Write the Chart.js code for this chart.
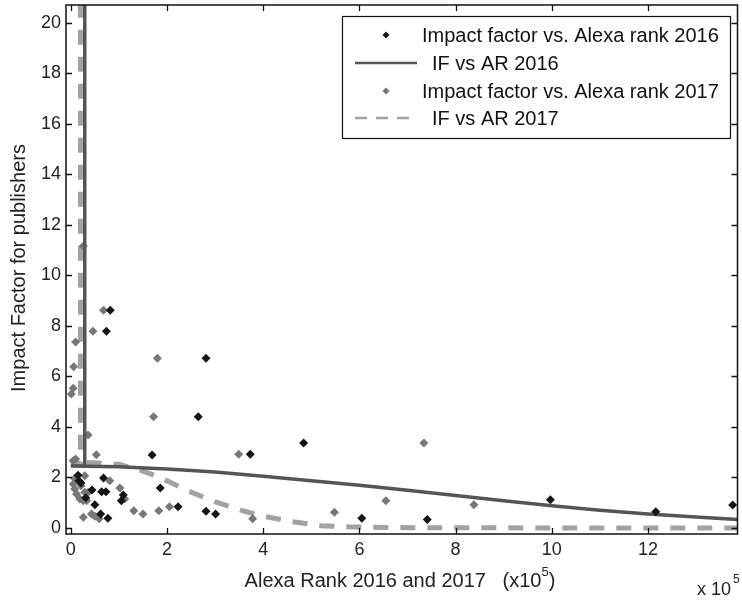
<!DOCTYPE html>
<html><head><meta charset="utf-8">
<script src="https://cdn.jsdelivr.net/npm/chart.js@4/dist/chart.umd.min.js"></script>
<style>html,body{margin:0;padding:0;background:#fff;}</style>
</head><body>
<canvas id="c" width="742" height="600"></canvas>
<script>
const FONT = '"Liberation Sans", Arial, Helvetica, sans-serif';

// ---- data (x in units of 1e5 Alexa rank) ----
const xTickValues = [0, 2, 4, 6, 8, 10, 12];
const yTickValues = [0, 2, 4, 6, 8, 10, 12, 14, 16, 18, 20];
const xRange = [-0.1, 13.86];
const yRange = [-0.24, 20.7];

const seriesLabels = [
  'Impact factor vs. Alexa rank 2016',
  'IF vs AR 2016',
  'Impact factor vs. Alexa rank 2017',
  'IF vs AR 2017'
];

const rank2016 = [0.82, 0.74, 2.81, 2.65, 1.69, 4.84, 3.73, 2.81, 3.01, 6.05, 7.41, 9.97, 12.16, 13.76,
                  1.86, 2.23, 1.09, 1.05, 0.17, 0.21, 0.68, 0.64, 0.73, 0.44, 0.50, 0.62, 0.77, 0.31, 0.15];
const if2016   = [8.62, 7.79, 6.72, 4.40, 2.89, 3.36, 2.92, 0.66, 0.55, 0.38, 0.33, 1.12, 0.64, 0.91,
                  1.58, 0.84, 1.30, 1.08, 1.87, 1.78, 1.98, 1.43, 1.43, 1.50, 0.92, 0.55, 0.38, 1.19, 2.09];

const rank2017 = [0.68, 0.46, 0.10, 0.06, 0.05, 0.01, 1.80, 1.72, 0.53, 0.36, 7.34, 3.49, 3.78, 5.48,
                  6.55, 8.38, 1.31, 1.50, 1.83, 2.05, 1.02, 1.12, 0.81, 0.26, 0.43, 0.50, 0.59, 0.05,
                  0.08, 0.12, 0.19, 0.26, 0.33, 0.36, 0.29, 0.21, 0.08, 0.29, 0.05, 0.10, 0.26];
const if2017   = [8.62, 7.79, 7.36, 6.38, 5.53, 5.30, 6.72, 4.40, 2.90, 3.68, 3.36, 2.92, 0.36, 0.62,
                  1.08, 0.92, 0.68, 0.55, 0.68, 0.84, 1.58, 1.15, 1.87, 0.42, 0.55, 0.46, 0.36, 1.74,
                  1.54, 1.34, 1.15, 1.08, 1.08, 1.41, 1.41, 1.67, 1.96, 2.07, 2.66, 2.73, 11.16];

const fitRank2016 = [0.29, 0.29, 0, 1, 2, 3, 4, 5, 6, 7, 8, 9, 10, 11, 12, 13, 13.86];
const fitIF2016   = [24, 2.45, 2.45, 2.42, 2.33, 2.21, 2.05, 1.87, 1.69, 1.49, 1.28, 1.08, 0.88, 0.70, 0.55, 0.43, 0.33];

const fitRank2017 = [0.2, 0.2, 0, 0.5, 1.0, 1.5, 1.85, 2.43, 3.02, 3.61, 4.0, 4.6, 5.2, 5.85, 7, 10, 13.86];
const fitIF2017   = [24, 2.56, 2.58, 2.58, 2.52, 2.25, 2.0, 1.47, 1.02, 0.66, 0.46, 0.25, 0.09, 0.04, 0.01, 0.0, 0.0];

const toPts = (xs, ys) => xs.map((x, i) => ({x: x, y: ys[i]}));

// ---- plugins ----
const frameAndTicks = {
  id: 'frameAndTicks',
  afterDatasetsDraw(chart) {
    const {ctx, chartArea: a, scales} = chart;
    ctx.save();
    ctx.strokeStyle = '#111';
    ctx.lineWidth = 1.5;
    ctx.strokeRect(a.left, a.top, a.right - a.left, a.bottom - a.top);
    ctx.lineWidth = 1.3;
    const len = 6;
    ctx.beginPath();
    xTickValues.forEach(v => {
      const px = Math.round(scales.x.getPixelForValue(v)) + 0.5;
      ctx.moveTo(px, a.bottom); ctx.lineTo(px, a.bottom - len);
      ctx.moveTo(px, a.top); ctx.lineTo(px, a.top + len);
    });
    yTickValues.forEach(v => {
      const py = Math.round(scales.y.getPixelForValue(v)) + 0.5;
      ctx.moveTo(a.left, py); ctx.lineTo(a.left + len, py);
      ctx.moveTo(a.right, py); ctx.lineTo(a.right - len, py);
    });
    ctx.stroke();
    ctx.restore();
  }
};

const boxLegend = {
  id: 'boxLegend',
  afterDraw(chart) {
    const ctx = chart.ctx;
    const L = 342, T = 16, R = 730, B = 138;
    const rows = [35, 63, 91, 118];
    ctx.save();
    ctx.fillStyle = '#fff';
    ctx.fillRect(L, T, R - L, B - T);
    ctx.strokeStyle = '#111';
    ctx.lineWidth = 1.2;
    ctx.strokeRect(L + 0.5, T + 0.5, R - L, B - T);
    ctx.font = '20px ' + FONT;
    ctx.textBaseline = 'middle';
    ctx.textAlign = 'left';
    chart.data.datasets.forEach((ds, i) => {
      const y = rows[i];
      if (ds.showLine) {
        ctx.strokeStyle = ds.borderColor;
        ctx.lineWidth = 2.5;
        ctx.setLineDash(ds.borderDash ? [12, 9] : []);
        ctx.beginPath(); ctx.moveTo(355, y); ctx.lineTo(417, y); ctx.stroke();
        ctx.setLineDash([]);
        ctx.fillStyle = '#111';
        ctx.fillText(ds.label, 432, y + 1);
      } else {
        ctx.fillStyle = ds.backgroundColor;
        const r = 3.5;
        ctx.beginPath();
        ctx.moveTo(386, y - r); ctx.lineTo(386 + r, y); ctx.lineTo(386, y + r); ctx.lineTo(386 - r, y);
        ctx.closePath(); ctx.fill();
        ctx.fillStyle = '#111';
        ctx.fillText(ds.label, 422, y + 1);
      }
    });
    ctx.restore();
  }
};

const axisTitles = {
  id: 'axisTitles',
  afterDraw(chart) {
    const ctx = chart.ctx;
    ctx.save();
    ctx.fillStyle = '#222';
    ctx.textBaseline = 'middle';
    // y title
    ctx.font = '20px ' + FONT;
    ctx.save();
    ctx.translate(19, 268);
    ctx.rotate(-Math.PI / 2);
    ctx.textAlign = 'center';
    ctx.fillText('Impact Factor for publishers', 0, 0);
    ctx.restore();
    // x title with superscript
    const main = 'Alexa Rank 2016 and 2017   (x10';
    const sup = '5';
    const tail = ')';
    ctx.font = '20px ' + FONT;
    const wMain = ctx.measureText(main).width;
    const wTail = ctx.measureText(tail).width;
    ctx.font = '13px ' + FONT;
    const wSup = ctx.measureText(sup).width;
    const total = wMain + wSup + wTail;
    let x = 400 - total / 2;
    const y = 581;
    ctx.textAlign = 'left';
    ctx.font = '20px ' + FONT;
    ctx.fillText(main, x, y);
    ctx.font = '13px ' + FONT;
    ctx.fillText(sup, x + wMain, y - 9);
    ctx.font = '20px ' + FONT;
    ctx.fillText(tail, x + wMain + wSup, y);
    // exponent label
    ctx.font = '18px ' + FONT;
    ctx.fillText('x 10', 697, 590);
    ctx.font = '12px ' + FONT;
    ctx.fillText('5', 733, 580);
    ctx.restore();
  }
};

const tickFont = {family: FONT, size: 18};

new Chart(document.getElementById('c'), {
  type: 'scatter',
  data: {
    datasets: [
      {
        label: seriesLabels[0],
        data: toPts(rank2016, if2016),
        pointStyle: 'rectRot', pointRadius: 4.5, pointBorderWidth: 0,
        backgroundColor: '#151515', borderColor: '#151515', order: 1
      },
      {
        label: seriesLabels[1],
        data: toPts(fitRank2016, fitIF2016),
        showLine: true, pointRadius: 0, borderColor: '#555555', borderWidth: 3.5,
        backgroundColor: '#555555', fill: false, tension: 0, order: 2
      },
      {
        label: seriesLabels[2],
        data: toPts(rank2017, if2017),
        pointStyle: 'rectRot', pointRadius: 4.5, pointBorderWidth: 0,
        backgroundColor: '#777777', borderColor: '#777777', order: 3
      },
      {
        label: seriesLabels[3],
        data: toPts(fitRank2017, fitIF2017),
        showLine: true, pointRadius: 0, borderColor: '#a2a2a2', borderWidth: 5,
        borderDash: [15, 12], backgroundColor: '#a2a2a2', fill: false, tension: 0, order: 4
      }
    ]
  },
  options: {
    responsive: false,
    animation: false,
    devicePixelRatio: 1,
    layout: {padding: {top: 5, right: 3, left: 0, bottom: 0}},
    plugins: {legend: {display: false}, tooltip: {enabled: false}, title: {display: false}},
    scales: {
      x: {
        type: 'linear', position: 'bottom', min: xRange[0], max: xRange[1],
        grid: {display: false, drawTicks: false}, border: {display: false},
        ticks: {font: tickFont, color: '#222', padding: 5, autoSkip: false, maxRotation: 0},
        afterBuildTicks: s => { s.ticks = xTickValues.map(v => ({value: v})); },
        afterFit: s => { s.height = 66; s.paddingLeft = 0; s.paddingRight = 0; }
      },
      y: {
        type: 'linear', position: 'left', min: yRange[0], max: yRange[1],
        grid: {display: false, drawTicks: false}, border: {display: false},
        ticks: {font: tickFont, color: '#222', padding: 5, autoSkip: false},
        afterBuildTicks: s => { s.ticks = yTickValues.map(v => ({value: v})); },
        afterFit: s => { s.width = 66; s.paddingTop = 0; s.paddingBottom = 0; }
      }
    }
  },
  plugins: [frameAndTicks, boxLegend, axisTitles]
});
</script>
</body></html>
